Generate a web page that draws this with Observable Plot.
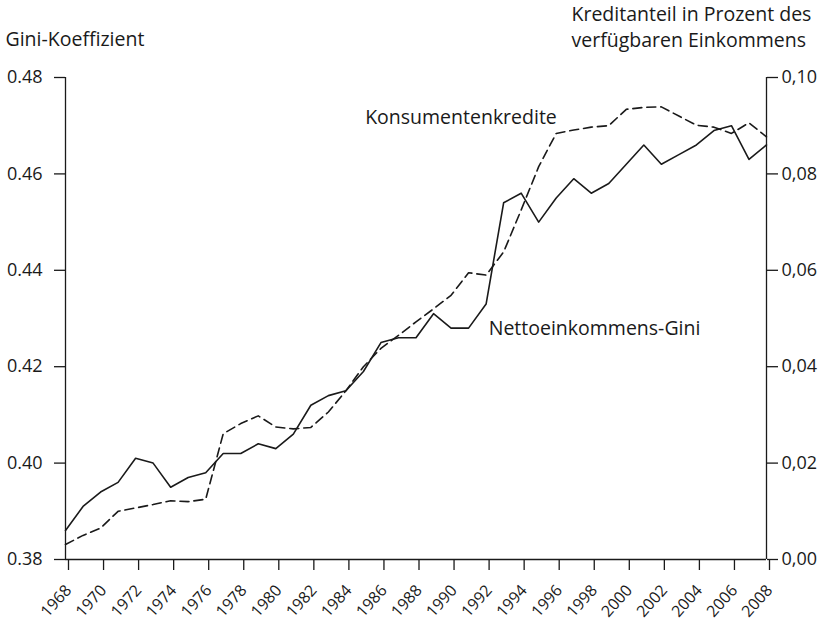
<!DOCTYPE html>
<html>
<head>
<meta charset="utf-8">
<script src="https://cdn.jsdelivr.net/npm/d3@7"></script>
<script src="https://cdn.jsdelivr.net/npm/@observablehq/plot@0.6"></script>
<style>
  html, body { margin: 0; padding: 0; background: #fff; }
</style>
</head>
<body>
<div id="chart"></div>
<script>
const years = [1968,1969,1970,1971,1972,1973,1974,1975,1976,1977,1978,1979,1980,
  1981,1982,1983,1984,1985,1986,1987,1988,1989,1990,1991,1992,
  1993,1994,1995,1996,1997,1998,1999,2000,2001,2002,2003,2004,2005,2006,2007,2008];
const gini = [0.386,0.391,0.394,0.396,0.401,0.400,0.395,0.397,0.398,0.402,0.402,0.404,0.403,
  0.406,0.412,0.414,0.415,0.419,0.425,0.426,0.426,0.431,0.428,0.428,0.433,
  0.454,0.456,0.450,0.455,0.459,0.456,0.458,0.462,0.466,0.462,0.464,0.466,0.469,0.470,0.463,0.466];
const credit = [0.0031,0.0050,0.0065,0.0100,0.0107,0.0114,0.0122,0.0120,0.0125,0.0261,0.0282,0.0298,0.0275,
  0.0271,0.0274,0.0306,0.0350,0.0400,0.0438,0.0465,0.0493,0.0520,0.0548,0.0595,0.0590,
  0.0638,0.0725,0.0815,0.0884,0.0891,0.0897,0.0900,0.0934,0.0938,0.0939,0.0920,0.0901,0.0897,0.0884,0.0906,0.0877];
const xTicks = [1968,1970,1972,1974,1976,1978,1980,1982,1984,1986,1988,1990,1992,1994,1996,1998,2000,2002,2004,2006,2008];
const giniTicks = [0.38,0.40,0.42,0.44,0.46,0.48];
const creditTicks = [0.00,0.02,0.04,0.06,0.08,0.10];
const leftTitle = "Gini-Koeffizient";
const rightTitle = "Kreditanteil in Prozent des\nverfügbaren Einkommens";
const seriesLabels = [
  {text: "Konsumentenkredite", year: 1985.1, value: 0.4717},
  {text: "Nettoeinkommens-Gini", year: 1992.15, value: 0.4279}
];

// credit shares are drawn on the same y scale, offset by the Gini axis minimum
const offset = giniTicks[0] - creditTicks[0];
const data = years.map((y, i) => ({year: y, gini: gini[i], credit: credit[i] + offset}));

const ink = "#1a1a1a";
const tickFont = 18;
const xTickFont = 16;
const labelFont = 19.5;
const chart = Plot.plot({
  width: 827,
  height: 628,
  marginLeft: 65,
  marginRight: 61,
  marginTop: 77,
  marginBottom: 69,
  style: {fontFamily: "'Open Sans', sans-serif", fontSize: tickFont + "px", color: ink, background: "#fff"},
  x: {domain: [1968, 2008]},
  y: {domain: [0.38, 0.48]},
  marks: [
    Plot.axisY({anchor: "left", ticks: giniTicks, tickFormat: d => d.toFixed(2), tickSize: 11, tickPadding: 12, label: null, strokeWidth: 1.3, fontSize: tickFont}),
    Plot.axisY({anchor: "right", ticks: giniTicks, tickFormat: d => (d - offset).toFixed(2).replace(".", ","), tickSize: 11, tickPadding: 4, label: null, strokeWidth: 1.3, fontSize: tickFont}),
    Plot.axisX({ticks: xTicks, tickFormat: d => String(d), tickSize: 11, tickRotate: -48, tickPadding: 17, dx: 3, label: null, strokeWidth: 1.3, fontSize: xTickFont}),
    Plot.ruleX([1968, 2008], {stroke: ink, strokeWidth: 1.3}),
    Plot.ruleY([0.38], {stroke: ink, strokeWidth: 1.3}),
    Plot.line(data, {x: "year", y: "credit", stroke: ink, strokeWidth: 1.6, strokeDasharray: "9,5"}),
    Plot.line(data, {x: "year", y: "gini", stroke: ink, strokeWidth: 1.6}),
    Plot.text(seriesLabels, {x: "year", y: "value", text: "text", textAnchor: "start", fill: ink, fontSize: labelFont}),
    Plot.text([leftTitle], {frameAnchor: "top-left", dx: -60, dy: -38, textAnchor: "start", lineAnchor: "middle", fill: ink, fontSize: labelFont}),
    Plot.text([rightTitle], {frameAnchor: "top-right", dx: -195, dy: -52, textAnchor: "start", lineAnchor: "middle", lineHeight: 1.33, fill: ink, fontSize: labelFont})
  ]
});
document.getElementById("chart").appendChild(chart);
</script>
</body>
</html>
